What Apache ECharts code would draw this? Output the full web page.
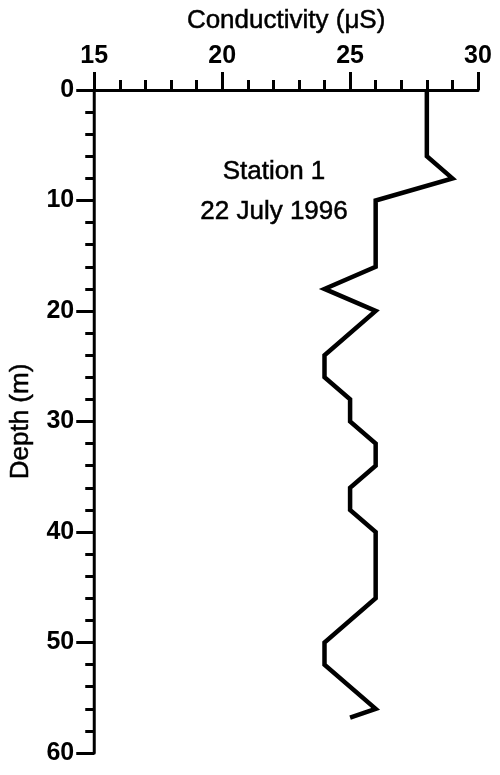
<!DOCTYPE html>
<html>
<head>
<meta charset="utf-8">
<script src="https://cdn.jsdelivr.net/npm/echarts@6/dist/echarts.min.js"></script>
<style>
  html, body { margin: 0; padding: 0; background: #fff; }
  #chart { width: 500px; height: 775px; }
</style>
</head>
<body>
<div id="chart"></div>
<script>
// Conductivity profile, Station 1, 22 July 1996
const conductivity = [28, 28, 29, 26, 26, 24, 26, 24, 24, 25, 25, 26, 26, 25, 25, 26, 26, 24, 24, 26, 25];
const depth        = [0, 6, 8, 10, 16, 18, 20, 24, 26, 28, 30, 32, 34, 36, 38, 40, 46, 50, 52, 56, 56.8];
const xTicks = [15, 20, 25, 30];
const yTicks = [0, 10, 20, 30, 40, 50, 60];
const xTitle = 'Conductivity (\u03bcS)';
const yTitle = 'Depth (m)';
const noteLines = ['Station 1', '22 July 1996'];

const FONT = '"Liberation Sans", Arial, Helvetica, sans-serif';
const points = conductivity.map((c, i) => [c, depth[i]]);

const chart = echarts.init(document.getElementById('chart'), null, { renderer: 'canvas' });

const axisCommon = {
  type: 'value',
  axisLine: { show: true, onZero: false, lineStyle: { color: '#000', width: 3 } },
  axisTick: { show: true, inside: false, length: 18, lineStyle: { color: '#000', width: 3 } },
  minorTick: { show: true, splitNumber: 5, length: 10, lineStyle: { color: '#000', width: 3 } },
  splitLine: { show: false },
  axisLabel: { color: '#000', fontFamily: FONT, fontSize: 25, fontWeight: 'bold', margin: 22 },
  nameLocation: 'middle',
  nameTextStyle: {
    color: '#000', fontFamily: FONT, fontSize: 26,
    textBorderColor: '#000', textBorderWidth: 0.5
  }
};

// Annotation lines, centred in the upper part of the plot
const noteGraphics = noteLines.map((line, i) => ({
  type: 'text',
  x: 274,
  y: 172 + i * 40,
  style: {
    text: line,
    font: '26px ' + FONT,
    fill: '#000',
    stroke: '#000',
    lineWidth: 0.5,
    align: 'center',
    verticalAlign: 'middle'
  }
}));

chart.setOption({
  animation: false,
  backgroundColor: '#fff',
  grid: { left: 94, right: 22, top: 90, bottom: 22, containLabel: false },
  xAxis: Object.assign({}, axisCommon, {
    position: 'top',
    min: xTicks[0],
    max: xTicks[xTicks.length - 1],
    interval: xTicks[1] - xTicks[0],
    name: xTitle,
    nameGap: 56,
    axisLabel: Object.assign({}, axisCommon.axisLabel, { showMinLabel: true, showMaxLabel: true, margin: 21 })
  }),
  yAxis: Object.assign({}, axisCommon, {
    inverse: true,
    min: yTicks[0],
    max: yTicks[yTicks.length - 1],
    interval: yTicks[1] - yTicks[0],
    name: yTitle,
    nameGap: 60,
    minorTick: Object.assign({}, axisCommon.minorTick, { length: 9 }),
    axisLabel: Object.assign({}, axisCommon.axisLabel, { margin: 20 })
  }),
  graphic: noteGraphics,
  series: [{
    type: 'line',
    data: points,
    showSymbol: false,
    symbol: 'none',
    lineStyle: { color: '#000', width: 4.5, join: 'miter' },
    clip: false
  }]
});
</script>
</body>
</html>
